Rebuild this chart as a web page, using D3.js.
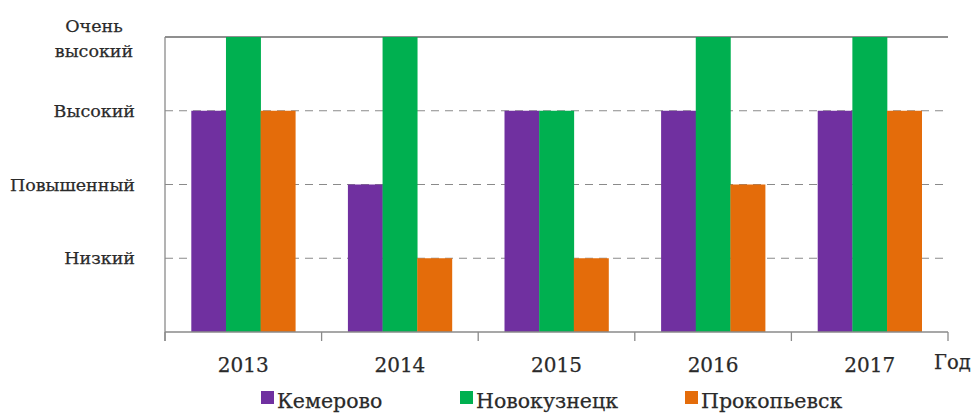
<!DOCTYPE html>
<html><head><meta charset="utf-8">
<script src="https://cdn.jsdelivr.net/npm/d3@7"></script>
<style>body{margin:0;background:#fff}svg{display:block}</style>
</head><body>
<svg id="c" width="980" height="414"></svg>
<script>
const years = ["2013","2014","2015","2016","2017"];
const cities = ["Кемерово","Новокузнецк","Прокопьевск"];
const colors = ["#7030A0","#00B050","#E46C0A"];
const kemerovo    = [3,2,3,3,3];
const novokuznetsk= [4,4,3,4,4];
const prokopyevsk = [3,1,1,2,3];
const levelLabels = [[""],["Низкий"],["Повышенный"],["Высокий"],["Очень","высокий"]];
const seriesVals = [kemerovo, novokuznetsk, prokopyevsk];
const FONT = "'DejaVu Serif','Liberation Serif',serif";

const svg = d3.select("#c").attr("font-family", FONT);
const m = {l:165, r:948, t:37, b:332};
const x0 = d3.scaleBand().domain(years).range([m.l, m.r]).paddingInner(0.336).paddingOuter(0.168);
const x1 = d3.scaleBand().domain(cities).range([0, x0.bandwidth()]).padding(0);
const y = d3.scaleLinear().domain([0,4]).range([m.b, m.t]);

// gridlines
const g = svg.append("g");
[1,2,3].forEach(v=>{
  g.append("line").attr("x1",m.l).attr("x2",m.r).attr("y1",y(v)).attr("y2",y(v))
   .attr("stroke","#8a8a8a").attr("stroke-width",1.2).attr("stroke-dasharray","8,6");
});
g.append("line").attr("x1",m.l).attr("x2",m.r).attr("y1",y(4)).attr("y2",y(4))
   .attr("stroke","#6a6a6a").attr("stroke-width",1.5);

// bars
years.forEach((yr,i)=>{
  cities.forEach((c,j)=>{
    const v = seriesVals[j][i];
    svg.append("rect").attr("x",x0(yr)+x1(c)).attr("width",x1.bandwidth()+0.3)
      .attr("y",y(v)).attr("height",y(0)-y(v)).attr("fill",colors[j]);
  });
});

// axes
svg.append("line").attr("x1",m.l).attr("x2",m.l).attr("y1",m.t).attr("y2",m.b+9).attr("stroke","#8a8a8a").attr("stroke-width",1.3);
svg.append("line").attr("x1",m.l).attr("x2",m.r).attr("y1",m.b).attr("y2",m.b).attr("stroke","#8a8a8a").attr("stroke-width",1.3);
const step = x0.step();
const bounds = years.map((yr)=> x0(yr) - x0.paddingInner()*step/2).concat([m.r]);
bounds.forEach(bx=>{
  svg.append("line").attr("x1",bx).attr("x2",bx).attr("y1",m.b).attr("y2",m.b+9).attr("stroke","#8a8a8a").attr("stroke-width",1.3);
});

const txt = (x,yy,s,t,anchor)=>svg.append("text").attr("x",x).attr("y",yy).attr("font-size",s)
   .attr("font-family",FONT).attr("fill","#2a2a2a").attr("stroke","#2a2a2a").attr("stroke-width",0.25)
   .attr("text-anchor",anchor||"start").text(t);

// x labels
years.forEach(yr=> txt(x0(yr)+x0.bandwidth()/2, 372, 20, yr, "middle"));
txt(934, 369, 19.5, "Год");

// y labels
levelLabels.forEach((lines,v)=>{
  if(lines.length===1){
    txt(135, y(v)+6, 17.5, lines[0], "end");
  } else {
    lines.forEach((t,k)=> txt(94, 32+k*25, 17.5, t, "middle"));
  }
});

// legend
const legX = [261, 460, 685];
cities.forEach((c,j)=>{
  svg.append("rect").attr("x",legX[j]).attr("y",391).attr("width",13).attr("height",13).attr("fill",colors[j]);
  txt(legX[j]+16, 408, 20.5, c);
});
</script>
</body></html>
